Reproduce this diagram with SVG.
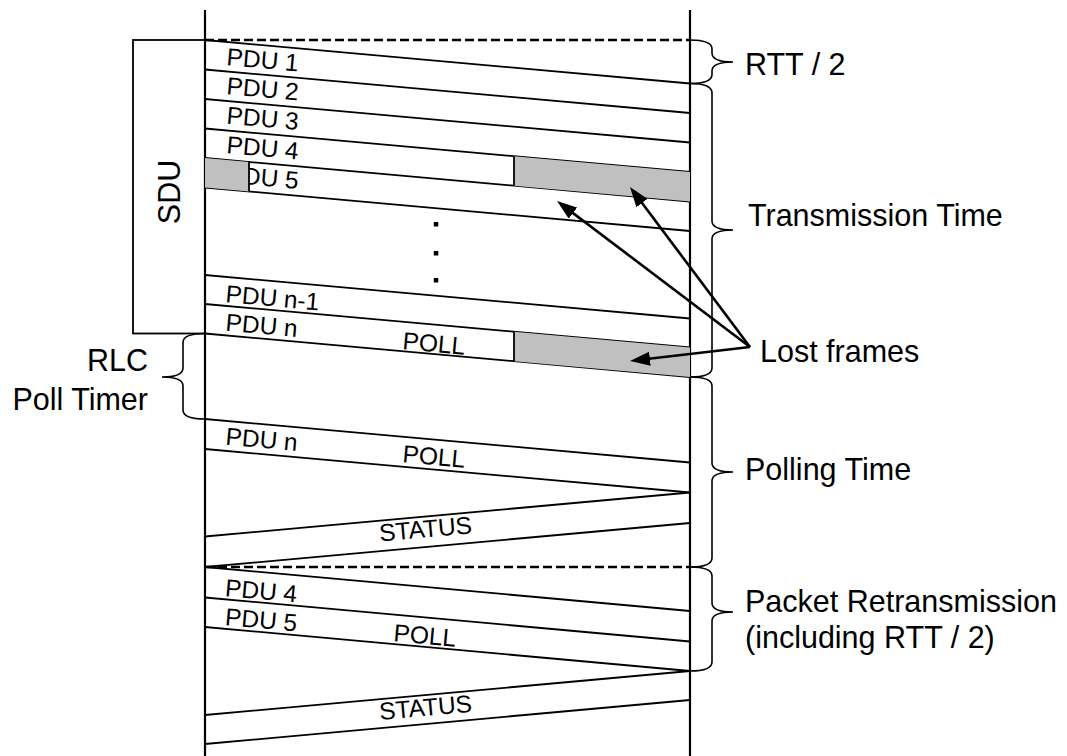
<svg xmlns="http://www.w3.org/2000/svg" width="1067" height="756" viewBox="0 0 1067 756">
  <defs>
    <style>
      .ln{stroke:#000;stroke-width:1.8;fill:none}
      .life{stroke:#000;stroke-width:2.2;fill:none}
      .dash{stroke:#000;stroke-width:2.5;stroke-dasharray:9 4;fill:none}
      .lost{fill:#c0c0c0;stroke:none}
      .brace{stroke:#000;stroke-width:1.6;fill:none}
      .arrow{stroke:#000;stroke-width:2.6;fill:none;marker-end:url(#head)}
      text{font-family:"Liberation Sans",Arial,Helvetica,sans-serif;fill:#000}
      .small{font-size:24.5px}
      .big{font-size:30.5px}
    </style>
    <marker id="head" markerUnits="userSpaceOnUse" markerWidth="20" markerHeight="14" refX="14" refY="7" orient="auto">
      <path d="M0,0 L20,7 L0,14 z" fill="#000"/>
    </marker>
  </defs>

  <rect width="1067" height="756" fill="#fff"/>

  <!-- sender and receiver time axes -->
  <g id="lifelines">
    <line class="life" x1="205" y1="10" x2="205" y2="756"/>
    <line class="life" x1="690" y1="10" x2="690" y2="756"/>
  </g>

  <!-- SDU block -->
  <g id="sdu">
    <rect class="ln" x="133" y="40" width="72" height="293.5"/>
    <text class="big" text-anchor="middle" transform="translate(180,192) rotate(-90)">SDU</text>
  </g>

  <!-- reference instants -->
  <g id="dashed-marks">
    <line class="dash" x1="205" y1="40" x2="690" y2="40"/>
    <line class="dash" x1="205" y1="567" x2="690" y2="567"/>
  </g>

  <!-- first transmission -->
  <g id="pdu-1">
    <line class="ln" x1="205" y1="40" x2="690" y2="83.5"/>
    <text class="small" transform="translate(226,65) rotate(5.13)">PDU 1</text>
  </g>
  <g id="pdu-2">
    <line class="ln" x1="205" y1="69.5" x2="690" y2="113"/>
    <text class="small" transform="translate(226,94) rotate(5.13)">PDU 2</text>
  </g>
  <g id="pdu-3">
    <line class="ln" x1="205" y1="99" x2="690" y2="142.5"/>
    <text class="small" transform="translate(226,123.5) rotate(5.13)">PDU 3</text>
  </g>
  <g id="pdu-4">
    <line class="ln" x1="205" y1="128.5" x2="690" y2="172"/>
    <text class="small" transform="translate(226,153) rotate(5.13)">PDU 4</text>
  </g>
  <g id="pdu-5">
    <line class="ln" x1="205" y1="158" x2="690" y2="201.5"/>
    <line class="ln" x1="205" y1="187.5" x2="690" y2="231"/>
    <text class="small" transform="translate(226,182.5) rotate(5.13)">PDU 5</text>
  </g>
  <g id="gap-dots">
    <rect x="433.8" y="222" width="4.5" height="4.5"/>
    <rect x="433.8" y="251" width="4.5" height="4.5"/>
    <rect x="433.8" y="278" width="4.5" height="4.5"/>
  </g>
  <g id="pdu-n-1">
    <line class="ln" x1="205" y1="275" x2="690" y2="318.5"/>
    <text class="small" transform="translate(225,302) rotate(5.13)">PDU n-1</text>
  </g>
  <g id="pdu-n">
    <line class="ln" x1="205" y1="304" x2="690" y2="347.5"/>
    <line class="ln" x1="205" y1="333.5" x2="690" y2="377"/>
    <text class="small" transform="translate(225,330.5) rotate(5.13)">PDU n</text>
    <text class="small" transform="translate(402,349) rotate(5.13)">POLL</text>
  </g>

  <!-- lost portions -->
  <g id="lost-frames">
    <polygon class="lost" points="514,156.2 690,172 690,201.5 514,185.7"/>
    <polygon class="lost" points="205,158 249,161.9 249,191.4 205,187.5"/>
    <polygon class="lost" points="514,331.7 690,347.5 690,377 514,361.2"/>
    <line class="ln" x1="514" y1="156.2" x2="514" y2="185.7"/>
    <line class="ln" x1="249" y1="161.9" x2="249" y2="191.4"/>
    <line class="ln" x1="514" y1="331.7" x2="514" y2="361.2"/>
  </g>

  <!-- poll repetition and status -->
  <g id="pdu-n-repeat">
    <line class="ln" x1="205" y1="419" x2="690" y2="462.5"/>
    <line class="ln" x1="205" y1="449" x2="690" y2="492.5"/>
    <text class="small" transform="translate(225,444.5) rotate(5.13)">PDU n</text>
    <text class="small" transform="translate(402,462) rotate(5.13)">POLL</text>
  </g>
  <g id="status-1">
    <line class="ln" x1="690" y1="492.5" x2="205" y2="536.5"/>
    <line class="ln" x1="690" y1="523" x2="205" y2="567"/>
    <text class="small" transform="translate(380,541.5) rotate(-5.13)">STATUS</text>
  </g>

  <!-- retransmission -->
  <g id="pdu-4-retx">
    <line class="ln" x1="205" y1="567" x2="690" y2="611"/>
    <text class="small" transform="translate(224.5,596) rotate(5.13)">PDU 4</text>
  </g>
  <g id="pdu-5-retx">
    <line class="ln" x1="205" y1="597.5" x2="690" y2="641.5"/>
    <line class="ln" x1="205" y1="627" x2="690" y2="671"/>
    <text class="small" transform="translate(224.5,625) rotate(5.13)">PDU 5</text>
    <text class="small" transform="translate(393,641) rotate(5.13)">POLL</text>
  </g>
  <g id="status-2">
    <line class="ln" x1="690" y1="671" x2="205" y2="715"/>
    <line class="ln" x1="690" y1="700" x2="205" y2="744"/>
    <text class="small" transform="translate(380,720) rotate(-5.13)">STATUS</text>
  </g>

  <!-- interval braces -->
  <g id="brace-rtt">
    <path class="brace" d="M690,40 Q712,40 712,49 L712,53 Q712,62 733,62 Q712,62 712,71 L712,74.5 Q712,83.5 690,83.5"/>
    <text class="big" x="745" y="75">RTT / 2</text>
  </g>
  <g id="brace-transmission">
    <path class="brace" d="M690,83.5 Q712,83.5 712,93 L712,221 Q712,230 733,230 Q712,230 712,239 L712,368 Q712,377 690,377"/>
    <text class="big" x="748" y="226">Transmission Time</text>
  </g>
  <g id="brace-polling">
    <path class="brace" d="M690,377 Q712,377 712,386 L712,463 Q712,472 733,472 Q712,472 712,481 L712,558 Q712,567 690,567"/>
    <text class="big" x="745" y="480">Polling Time</text>
  </g>
  <g id="brace-retransmission">
    <path class="brace" d="M690,567 Q712,567 712,576 L712,603 Q712,612 733,612 Q712,612 712,621 L712,662 Q712,671 690,671"/>
    <text class="big" x="745" y="612">Packet Retransmission</text>
    <text class="big" x="745" y="648">(including RTT / 2)</text>
  </g>
  <g id="brace-poll-timer">
    <path class="brace" d="M205,333.5 Q183,333.5 183,342.5 L183,368 Q183,377 162,377 Q183,377 183,386 L183,410 Q183,419 205,419"/>
    <text class="big" x="148" y="371" text-anchor="end">RLC</text>
    <text class="big" x="148" y="410" text-anchor="end">Poll Timer</text>
  </g>

  <!-- lost frame callout -->
  <g id="lost-label">
    <text class="big" x="760" y="362">Lost frames</text>
  </g>
  <g id="connectors">
    <line class="arrow" x1="750" y1="347" x2="561.8" y2="204.6"/>
    <line class="arrow" x1="750" y1="347" x2="633.6" y2="191.8"/>
    <line class="arrow" x1="750" y1="347" x2="636" y2="360.3"/>
  </g>
</svg>
